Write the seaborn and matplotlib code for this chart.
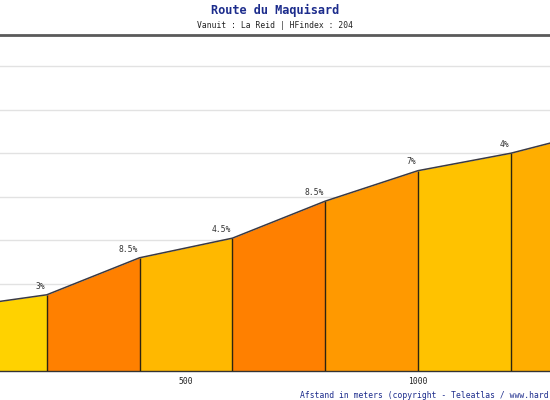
import matplotlib
matplotlib.use("Agg")
import matplotlib.pyplot as plt
import seaborn as sns
import pandas as pd

# profile data (distance in m, elevation in m)
distance = [0, 200, 400, 600, 800, 1000, 1200, 1400]
elevation = [229, 235, 252, 261, 278, 292, 300, 311]
grades = [3, 8.5, 4.5, 8.5, 7, 4, 5.5]
# grade labels shown at the end of each visible segment
grade_labels = ["3%", "8.5%", "4.5%", "8.5%", "7%", "4%"]

# fill colour per grade
grade_colors = {3: "#FFD200", 4: "#FFC200", 4.5: "#FFB800", 5.5: "#FFAE00",
                7: "#FF9900", 8.5: "#FF8000"}

df = pd.DataFrame({"distance": distance, "elevation": elevation})

sns.set_style("white")
plt.rcParams["font.family"] = ["DejaVu Sans Mono"]

fig = plt.figure(figsize=(5.5, 4), dpi=100)
# axes deliberately wider than the figure: y-axis is cropped off
ax = fig.add_axes([-46 / 550, 29 / 400, 649.6 / 550, 336 / 400])
ax.set_xlim(0, 1400)
ax.set_ylim(200, 354.3)

ax.set_yticks(range(220, 360, 20))
ax.yaxis.grid(True, color="#e2e2e2", lw=1)
ax.set_axisbelow(True)
ax.tick_params(axis="y", left=False, labelleft=False)

for i, g in enumerate(grades):
    seg = df.iloc[i:i + 2]
    ax.fill_between(seg["distance"], 200, seg["elevation"],
                    color=grade_colors[g], lw=0, zorder=2)
ax.vlines(distance[1:-1], 200, elevation[1:-1], color="#2e2410", lw=1.0, zorder=3)

sns.lineplot(data=df, x="distance", y="elevation", ax=ax, color="#3a3a44",
             lw=1.1, zorder=4)

for x, y, lab in zip(distance[1:], elevation[1:], grade_labels):
    ax.annotate(lab, (x, y), xytext=(-1, 3), textcoords="offset points",
                ha="right", va="bottom", fontsize=5.8, color="#333333")

ax.set_xticks([100, 300, 500, 700, 900, 1000, 1100])
ax.set_xticklabels(["", "", "500", "", "", "1000", ""])
ax.tick_params(axis="x", direction="in", length=3, width=0.8, color="#333333",
               labelsize=5.8, labelcolor="#222222", pad=4)
ax.set_xlabel("")
ax.set_ylabel("")

for s in ["left", "right"]:
    ax.spines[s].set_visible(False)
ax.spines["bottom"].set_color("#333333")
ax.spines["bottom"].set_linewidth(1)
ax.spines["top"].set_color("#5a5a5a")
ax.spines["top"].set_linewidth(2)

fig.text(0.5, 1 - 10.5 / 400, "Route du Maquisard", ha="center", va="center",
         fontsize=8.6, fontweight="bold", color="#1c2c8c")
fig.text(0.5, 1 - 26 / 400, "Vanuit : La Reid | HFindex : 204", ha="center",
         va="center", fontsize=5.8, color="#222222")
fig.text(549 / 550, 1 - 395 / 400,
         "Afstand in meters (copyright - Teleatlas / www.hard",
         ha="right", va="center", fontsize=5.8, color="#1c2c8c")

plt.savefig("out.png", dpi=100)
